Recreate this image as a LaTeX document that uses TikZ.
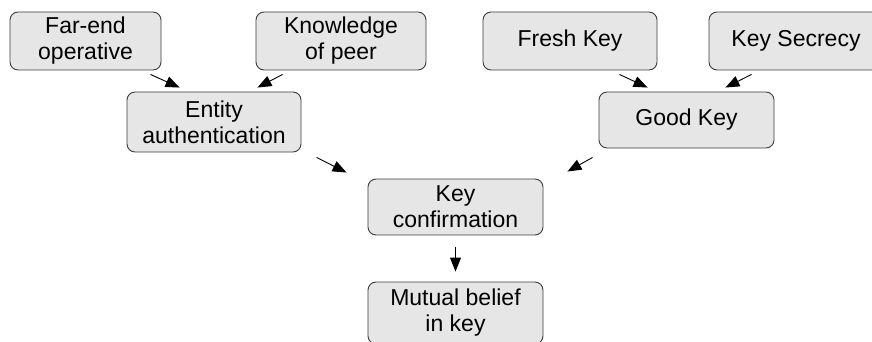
\documentclass[tikz,border=0pt]{standalone}
\usepackage{fontspec}
\setmainfont{Liberation Sans}
\usepackage{tikz}
\usetikzlibrary{arrows.meta}
\definecolor{boxfill}{RGB}{230,230,230}
\definecolor{boxline}{RGB}{60,60,60}
\tikzset{
  goal/.style={shape=rectangle, rounded corners=8pt, draw=boxline, line width=0.9pt, fill=boxfill,
    align=center, inner sep=0pt, font=\fontsize{23}{26}\selectfont},
  imp/.style={-{Triangle[length=14pt,width=11pt]}, line width=0.9pt}
}
\begin{document}
\begin{tikzpicture}[x=1pt, y=-1pt]
      \useasboundingbox (0,0) rectangle (872,342);
      \node (fe) [goal, minimum width=151pt, minimum height=58pt] at (85.5,41) {Far-end\\operative};
      \node (kp) [goal, minimum width=170pt, minimum height=58pt] at (341,41) {Knowledge\\of peer};
      \node (ea) [goal, minimum width=174pt, minimum height=60pt] at (214,122) {Entity\\authentication};
      \node (fk) [goal, minimum width=174pt, minimum height=58pt] at (570,41) {Fresh Key};
      \node (ks) [goal, minimum width=174pt, minimum height=58pt] at (796,41) {Key Secrecy};
      \node (gk) [goal, minimum width=175pt, minimum height=56pt] at (686.5,120) {Good Key};
      \node (kc) [goal, minimum width=175pt, minimum height=56pt] at (455.5,207) {Key\\confirmation};
      \node (mb) [goal, minimum width=175pt, minimum height=62pt] at (455.5,313) {Mutual belief\\in key};
      \draw [imp] ([shift={(-11,4)}]fe.south east) -- ([shift={(53,-4)}]ea.north west);
      \draw [imp] ([shift={(27,4)}]kp.south west) -- ([shift={(-44,-4)}]ea.north east);
      \draw [imp] ([shift={(15,5)}]ea.south east) -- ([shift={(-21,-6)}]kc.north west);
      \draw [imp] ([shift={(-38,4)}]fk.south east) -- ([shift={(49,-4)}]gk.north west);
      \draw [imp] ([shift={(43,4)}]ks.south west) -- ([shift={(-49,-4)}]gk.north east);
      \draw [imp] ([shift={(-6,9)}]gk.south west) -- ([shift={(24,-7)}]kc.north east);
      \draw [imp] ([shift={(0,12)}]kc.south) -- ([shift={(0,-10)}]mb.north);
    \end{tikzpicture}
\end{document}
